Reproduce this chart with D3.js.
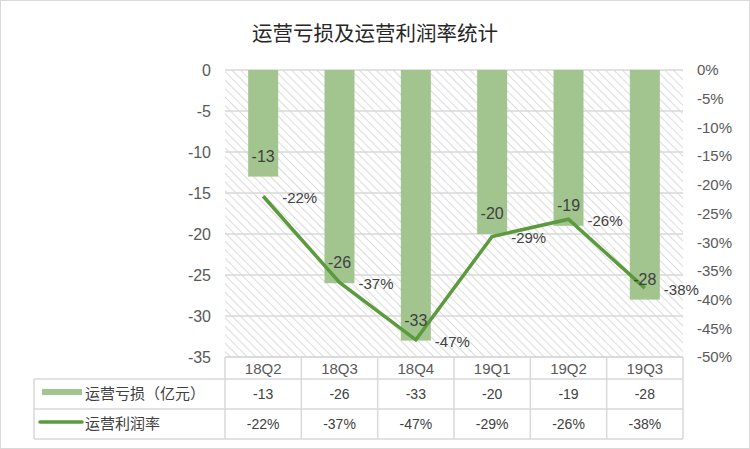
<!DOCTYPE html>
<html>
<head>
<meta charset="utf-8">
<script src="https://cdn.jsdelivr.net/npm/d3@7"></script>
<style>
  body { margin: 0; background: #fff; }
  text { font-family: "Liberation Sans", "Noto Sans CJK SC", sans-serif; }
</style>
</head>
<body>
<svg id="chart" width="750" height="449"></svg>
<script>
// chart data
const quarters = ["18Q2", "18Q3", "18Q4", "19Q1", "19Q2", "19Q3"]
const loss = [-13, -26, -33, -20, -19, -28]
const margin = [-0.22, -0.37, -0.47, -0.29, -0.26, -0.38]
const lossTicks = [0, -5, -10, -15, -20, -25, -30, -35]
const marginTicks = [0, -0.05, -0.1, -0.15, -0.2, -0.25, -0.3, -0.35, -0.4, -0.45, -0.5]
const seriesNames = ["运营亏损（亿元）", "运营利润率"]

const W = 750, H = 449
const plot = { left: 225, right: 683, top: 70, bottom: 357 }
const BAR = "#a2c58f", LINE = "#5b9a3d", GRID = "#d9d9d9", TXT = "#404040"
const CJK = '"Noto Sans CJK SC", sans-serif'

// plain hyphen minus, like the original
const pct = d => Math.round(d * 100) + "%"
const num = d => String(d)

const svg = d3.select("#chart")

// hatch pattern for plot background
const pat = svg.append("defs").append("pattern")
  .attr("id", "hatch").attr("patternUnits", "userSpaceOnUse")
  .attr("width", 6).attr("height", 6)
  .attr("patternTransform", "rotate(-45)")
pat.append("line").attr("x1", 0).attr("y1", 0).attr("x2", 0).attr("y2", 6)
  .attr("stroke", "#dcdcdc").attr("stroke-width", 2)

svg.append("rect").attr("x", 0.5).attr("y", 0.5).attr("width", W - 1).attr("height", H - 1)
  .attr("fill", "#fff").attr("stroke", GRID)

svg.append("text").attr("x", 375).attr("y", 41).attr("text-anchor", "middle")
  .style("font-family", CJK).style("font-size", "20.5px")
  .attr("fill", "#262626").text("运营亏损及运营利润率统计")

const x = d3.scaleBand().domain(quarters).range([plot.left, plot.right])
const yL = d3.scaleLinear().domain([0, -35]).range([plot.top, plot.bottom])
const yR = d3.scaleLinear().domain([0, -0.5]).range([plot.top, plot.bottom])

svg.append("rect").attr("x", plot.left).attr("y", plot.top)
  .attr("width", plot.right - plot.left).attr("height", plot.bottom - plot.top)
  .attr("fill", "url(#hatch)")

// gridlines
svg.append("g").selectAll("line").data(lossTicks).join("line")
  .attr("x1", plot.left).attr("x2", plot.right)
  .attr("y1", d => yL(d)).attr("y2", d => yL(d))
  .attr("stroke", GRID).attr("stroke-width", 1.5)

// left axis
const axL = svg.append("g").attr("transform", `translate(${plot.left},0)`)
  .call(d3.axisLeft(yL).tickValues(lossTicks).tickSize(0).tickPadding(14).tickFormat(num))
axL.select(".domain").remove()
axL.selectAll("text").style("font-size", "16px").attr("fill", "#595959")

// right axis
const axR = svg.append("g").attr("transform", `translate(${plot.right},0)`)
  .call(d3.axisRight(yR).tickValues(marginTicks).tickSize(0).tickPadding(14).tickFormat(pct))
axR.select(".domain").remove()
axR.selectAll("text").style("font-size", "15px").attr("fill", "#595959")

// bars
const bw = 30
svg.append("g").selectAll("rect").data(quarters).join("rect")
  .attr("x", d => x(d) + x.bandwidth() / 2 - bw / 2)
  .attr("width", bw)
  .attr("y", yL(0))
  .attr("height", (d, i) => yL(loss[i]) - yL(0))
  .attr("fill", BAR)

// margin line
const line = d3.line().x((d, i) => x(quarters[i]) + x.bandwidth() / 2).y(d => yR(d))
svg.append("path").datum(margin).attr("d", line)
  .attr("fill", "none").attr("stroke", LINE).attr("stroke-width", 3.5)

// bar labels
svg.append("g").selectAll("text").data(quarters).join("text")
  .attr("x", d => x(d) + x.bandwidth() / 2)
  .attr("y", (d, i) => yL(loss[i]) - 15)
  .attr("text-anchor", "middle")
  .style("font-size", "16px").attr("fill", TXT)
  .text((d, i) => num(loss[i]))

// line labels
svg.append("g").selectAll("text").data(quarters).join("text")
  .attr("x", d => x(d) + x.bandwidth() / 2 + 19)
  .attr("y", (d, i) => yR(margin[i]) + 7)
  .style("font-size", "15px").attr("fill", TXT)
  .text((d, i) => pct(margin[i]))

// data table
const tbl = { left: 34, rows: [plot.bottom, 379, 409, 439] }
const tg = svg.append("g").attr("stroke", GRID).attr("stroke-width", 1.5)
tg.append("line").attr("x1", plot.left).attr("x2", plot.right)
  .attr("y1", tbl.rows[0]).attr("y2", tbl.rows[0])
tbl.rows.slice(1).forEach(r => {
  tg.append("line").attr("x1", tbl.left).attr("x2", plot.right).attr("y1", r).attr("y2", r)
})
tg.append("line").attr("x1", tbl.left).attr("x2", tbl.left)
  .attr("y1", tbl.rows[1]).attr("y2", tbl.rows[3])
quarters.concat([null]).forEach(q => {
  const xx = q ? x(q) : plot.right
  tg.append("line").attr("x1", xx).attr("x2", xx)
    .attr("y1", tbl.rows[0]).attr("y2", tbl.rows[3])
})

const rowMid = i => (tbl.rows[i] + tbl.rows[i + 1]) / 2 + 5
const cells = svg.append("g").style("font-size", "14px").attr("fill", TXT)
  .attr("text-anchor", "middle")
cells.selectAll(".hd").data(quarters).join("text").attr("class", "hd")
  .attr("x", d => x(d) + x.bandwidth() / 2).attr("y", rowMid(0) + 1)
  .style("font-size", "15px").attr("fill", "#595959").text(d => d)
cells.selectAll(".l").data(quarters).join("text").attr("class", "l")
  .attr("x", d => x(d) + x.bandwidth() / 2).attr("y", rowMid(1))
  .text((d, i) => num(loss[i]))
cells.selectAll(".m").data(quarters).join("text").attr("class", "m")
  .attr("x", d => x(d) + x.bandwidth() / 2).attr("y", rowMid(2))
  .text((d, i) => pct(margin[i]))

// legend keys in table
svg.append("rect").attr("x", 42).attr("y", 389).attr("width", 40).attr("height", 6).attr("fill", BAR)
svg.append("line").attr("x1", 40).attr("x2", 82).attr("y1", 422).attr("y2", 422)
  .attr("stroke", LINE).attr("stroke-width", 3.5).attr("stroke-linecap", "round")
seriesNames.forEach((n, i) => {
  svg.append("text").attr("x", 85).attr("y", rowMid(i + 1))
    .style("font-family", CJK).style("font-size", "15px").attr("fill", TXT).text(n)
})
</script>
</body>
</html>
